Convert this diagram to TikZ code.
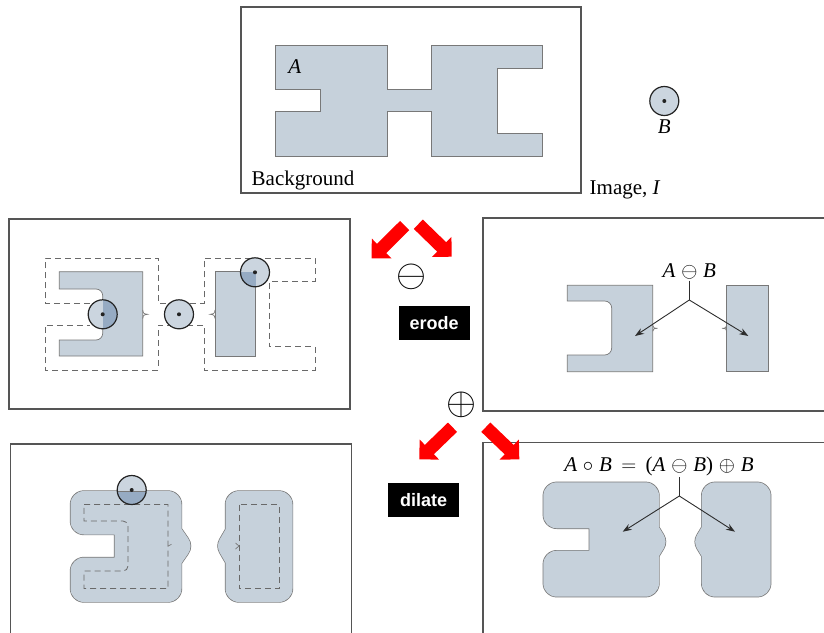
\documentclass[tikz,border=0pt]{standalone}
\usepackage{graphicx}
\usepackage{fontspec}
\setmainfont{Liberation Serif}
\newfontfamily\boxfont{Liberation Sans}
\usetikzlibrary{calc,arrows.meta}
\definecolor{shapefill}{RGB}{198,209,219}
\definecolor{edgegray}{RGB}{120,120,120}
\definecolor{dashgray}{RGB}{105,105,105}
\definecolor{panelgray}{RGB}{85,85,85}
\definecolor{probelight}{RGB}{203,213,223}
\definecolor{probedark}{RGB}{150,171,195}
\definecolor{probeedge}{RGB}{35,35,35}
\definecolor{conngray}{RGB}{45,45,45}
\definecolor{arrowred}{RGB}{255,0,0}
\newcommand\redarrow[2]{%
  \path ($(#2)!14pt!(#1)$) coordinate (rb);
  \fill[arrowred] (#2) -- ($(rb)!14pt!90:(#2)$) -- ($(rb)!6.5pt!90:(#2)$)
    -- ($(#1)!6.5pt!90:(#2)$) -- ($(#1)!6.5pt!-90:(#2)$)
    -- ($(rb)!6.5pt!-90:(#2)$) -- ($(rb)!14pt!-90:(#2)$) -- cycle;}
\begin{document}
\begin{tikzpicture}[x=1pt,y=-1pt,
  panel/.style={draw=panelgray, line width=1.1pt},
  shp/.style={fill=shapefill, draw=edgegray, line width=0.7pt},
  orig/.style={draw=dashgray, dash pattern=on 6pt off 4pt, line width=0.8pt},
  probe/.style={draw=probeedge, line width=1.2pt},
  conn/.style={draw=conngray, line width=0.9pt},
  connarr/.style={conn, -{Stealth[length=9pt,width=6.5pt]}},
  lbl/.style={font=\fontsize{21}{21}\selectfont, inner sep=1pt},
  oplbl/.style={font=\fontsize{24}{24}\selectfont, inner sep=0pt},
  opbox/.style={fill=black, text=white, font=\boxfont\bfseries\fontsize{18}{18}\selectfont,
    minimum width=71pt, minimum height=34pt, inner sep=0pt},
  dilout/.style={draw=edgegray, fill=edgegray, line width=28.4pt, line join=round},
  dilin/.style={draw=shapefill, fill=shapefill, line width=27pt, line join=round}]
\useasboundingbox (0,0) rectangle (824,632);
\clip (0,0) rectangle (824,632);

% ---------- panels ----------
\draw[panel] (241,7) rectangle (581,193);
\draw[panel] (9,219) rectangle (350,409);
\draw[panel] (483,218) rectangle (840,411);
\draw[panel] (10.5,444) rectangle (351.5,660);
\draw[panel] (483,442.5) rectangle (840,660);

% ---------- top: image I ----------
\filldraw[shp] (275,45) -- (387.7,45) -- (387.7,89.3) -- (431.7,89.3) -- (431.7,45)
  -- (542.3,45) -- (542.3,68.3) -- (497.7,68.3) -- (497.7,133.3) -- (542.3,133.3)
  -- (542.3,156) -- (431.7,156) -- (431.7,111) -- (387.7,111) -- (387.7,156)
  -- (275,156) -- (275,111) -- (320,111) -- (320,89.3) -- (275,89.3) -- cycle;
\node[lbl] (lblA) at (294.7,66.3) {\textit{A}};
\node[lbl, anchor=base west] (bg) at (250.5,185.5) {Background};
\node[lbl, anchor=base west] (img) at (588.5,194.5) {Image, \textit{I}};
\fill[probelight] (664.3,101) circle (14.5pt);
\draw[probe] (664.3,101) circle (14.5pt);
\fill[probeedge] (664.3,101) circle (2pt);
\node[lbl] (lblB) at (664.3,127) {\textit{B}};

% ---------- middle left: erosion process ----------
\filldraw[shp] (59.3,271.7) -- (142.7,271.7) -- (142.7,356) -- (59.3,356) -- (59.3,340)
  -- (96,340) .. controls (99.7,340) and (102.7,337) .. (102.7,333.3)
  -- (102.7,295.7) .. controls (102.7,292) and (99.7,289) .. (96,289)
  -- (59.3,289) -- cycle;
\filldraw[shp] (215,271.7) rectangle (255.7,356);
\draw[edgegray, line width=0.7pt] (142.7,310) .. controls (143.4,313.6) .. (147.5,314.3)
  .. controls (143.4,315) .. (142.7,318.6);
\draw[edgegray, line width=0.7pt] (215,310) .. controls (214.3,313.6) .. (210.2,314.3)
  .. controls (214.3,315) .. (215,318.6);
\draw[orig] (90,303.3) -- (45,303.3) -- (45,258.3) -- (158.3,258.3) -- (158.3,303.3)
  -- (204,303.3) -- (204,258.3) -- (315,258.3) -- (315,281) -- (269.3,281)
  -- (269.3,346.7) -- (315,346.7) -- (315,370) -- (204,370) -- (204,325)
  -- (158.3,325) -- (158.3,370) -- (45,370) -- (45,325) -- (90,325);
% probes
\fill[probelight] (102.7,314.3) circle (14.5pt);
\begin{scope}\clip (102.7,314.3) circle (14.5pt);
  \fill[probedark] (102.7,295) rectangle (130,335);\end{scope}
\draw[probe] (102.7,314.3) circle (14.5pt);
\fill[probeedge] (102.7,314.3) circle (2pt);
\fill[probelight] (179,314.3) circle (14.5pt);
\draw[probe] (179,314.3) circle (14.5pt);
\fill[probeedge] (179,314.3) circle (2pt);
\fill[probelight] (255,272.3) circle (14.5pt);
\begin{scope}\clip (255,272.3) circle (14.5pt);
  \fill[probedark] (230,271.7) rectangle (255.7,300);\end{scope}
\draw[probe] (255,272.3) circle (14.5pt);
\fill[probeedge] (255,272.3) circle (2pt);

% ---------- middle right: A erode B ----------
\filldraw[shp] (567.3,285.3) -- (652.7,285.3) -- (652.7,371.7) -- (567.3,371.7) -- (567.3,355)
  -- (604.7,355) .. controls (608.5,355) and (611.7,351.8) .. (611.7,348)
  -- (611.7,308) .. controls (611.7,304.2) and (608.5,301) .. (604.7,301)
  -- (567.3,301) -- cycle;
\filldraw[shp] (726.7,285.3) rectangle (768.3,371.7);
\draw[edgegray, line width=0.7pt] (652.7,325.3) .. controls (653.5,328) .. (657.5,328.3)
  .. controls (653.5,328.6) .. (652.7,331.3);
\draw[edgegray, line width=0.7pt] (726.7,325.3) .. controls (725.9,328) .. (721.9,328.3)
  .. controls (725.9,328.6) .. (726.7,331.3);
\node[lbl] (eq1) at (689.3,271.7) {\textit{A}\;$\ominus$\;\textit{B}};
\coordinate (br1) at (689.3,300);
\coordinate (e1l) at (635,336);
\coordinate (e1r) at (748.3,336);
\draw[conn] (eq1.south -| br1) -- (br1);
\draw[connarr] (br1) -- (e1l);
\draw[connarr] (br1) -- (e1r);

% ---------- bottom left: dilation process ----------
\def\SLa{(84,504.5) -- (168,504.5) -- (168,533) -- (177,546) -- (168,559) -- (168,588.5)
  -- (84,588.5) -- (84,571) -- (128,571) -- (128,521) -- (84,521) -- cycle}
\def\SRa{(239,504.5) -- (279,504.5) -- (279,588.5) -- (239,588.5) -- (239,559)
  -- (231.5,546) -- (239,533) -- cycle}
\filldraw[dilout] \SLa;
\filldraw[dilout] \SRa;
\filldraw[dilin] \SLa;
\filldraw[dilin] \SRa;
\draw[orig] (84,504.5) -- (168,504.5) -- (168,588.5) -- (84,588.5) -- (84,571)
  -- (123,571) .. controls (125.8,571) and (128,568.8) .. (128,566)
  -- (128,526) .. controls (128,523.2) and (125.8,521) .. (123,521) -- (84,521) -- cycle;
\draw[orig] (239,504.5) rectangle (279,588.5);
\draw[edgegray, line width=0.7pt] (168,546) -- (171.5,544.3);
\draw[edgegray, line width=0.7pt] (235.5,543) -- (239,546) -- (235.5,549);
\fill[probelight] (131.7,490) circle (14.5pt);
\begin{scope}\clip (131.7,490) circle (14.5pt);
  \fill[probedark] (110,491) rectangle (155,510);\end{scope}
\draw[edgegray, line width=0.7pt] (117.2,491) -- (146.2,491);
\draw[probe] (131.7,490) circle (14.5pt);
\fill[probeedge] (131.7,490) circle (2pt);

% ---------- bottom right: opening ----------
\def\SLb{(556.8,495.8) -- (645.5,495.8) -- (645.5,531) -- (652,541.7) -- (645.5,552.4)
  -- (645.5,583.2) -- (556.8,583.2) -- (556.8,564.2) -- (602.8,564.2) -- (602.8,514.8)
  -- (556.8,514.8) -- cycle}
\def\SRb{(715.2,495.8) -- (757.2,495.8) -- (757.2,583.2) -- (715.2,583.2) -- (715.2,552.4)
  -- (708.7,541.7) -- (715.2,531) -- cycle}
\filldraw[dilout] \SLb;
\filldraw[dilout] \SRb;
\filldraw[dilin] \SLb;
\filldraw[dilin] \SRb;
\node[lbl] (eq2) at (659,466.7) {\textit{A}\;$\circ$\;\textit{B}\;\,$=$\;\,(\textit{A}\;$\ominus$\;\textit{B})\;$\oplus$\;\textit{B}};
\coordinate (br2) at (679.3,496);
\coordinate (e2l) at (622.7,531.7);
\coordinate (e2r) at (735,531.7);
\draw[conn] (eq2.south -| br2) -- (br2);
\draw[connarr] (br2) -- (e2l);
\draw[connarr] (br2) -- (e2r);

% ---------- operators and red arrows ----------
\node[oplbl] (opm) at (411,276.7) {\scalebox{1.55}{$\ominus$}};
\node[oplbl] (opp) at (461,405) {\scalebox{1.55}{$\oplus$}};
\node[opbox] (erode) at (434.2,323) {erode};
\node[opbox] (dilate) at (423.7,499.7) {dilate};
\coordinate (ra1t) at (404.7,225.5); \coordinate (ra1h) at (371.7,258.3);
\coordinate (ra2t) at (418.3,224.2); \coordinate (ra2h) at (451.7,256.7);
\coordinate (ra3t) at (452.5,427.2); \coordinate (ra3h) at (419.3,459.3);
\coordinate (ra4t) at (485.8,427.2); \coordinate (ra4h) at (519.3,459.3);
\redarrow{ra1t}{ra1h}
\redarrow{ra2t}{ra2h}
\redarrow{ra3t}{ra3h}
\redarrow{ra4t}{ra4h}
\end{tikzpicture}
\end{document}
